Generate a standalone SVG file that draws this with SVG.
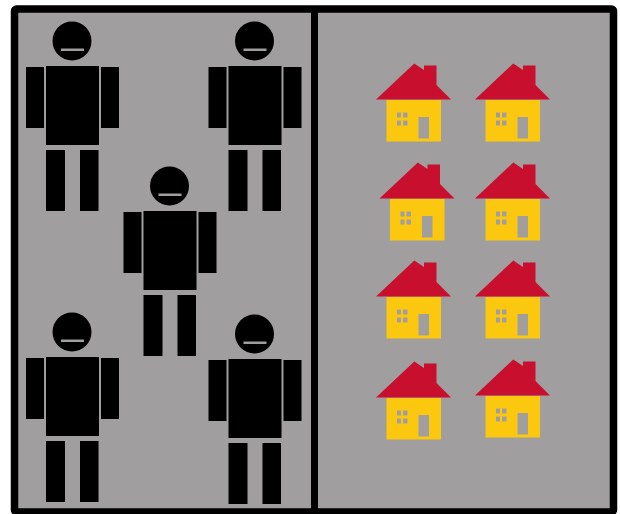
<svg xmlns="http://www.w3.org/2000/svg" width="620" height="514" viewBox="0 0 620 514">
<defs>
<style>
.k{fill:#000}.m{fill:#a09e9f}.r{fill:#c80f2d}.y{fill:#fcc80f}
</style>
<g id="person">
<circle class="k" cx="72" cy="41" r="19.5"/>
<rect class="m" x="61" y="48.5" width="23" height="2.5"/>
<rect class="k" x="46" y="66" width="53" height="79"/>
<rect class="k" x="26" y="67" width="18" height="61"/>
<rect class="k" x="101" y="67" width="18" height="61"/>
<rect class="k" x="46" y="150" width="19" height="61"/>
<rect class="k" x="80" y="150" width="18.500" height="61"/>
</g>
<g id="house">
<polygon class="r" points="376,99.500 414.300,63.500 424,70 424,65.500 436.500,65.500 436.500,85 451,99.500"/>
<rect class="y" x="386.500" y="100" width="54.500" height="41.500"/>
<rect class="m" x="418.500" y="117" width="10.500" height="21.500"/>
<g class="m">
<rect x="397" y="112.500" width="4" height="5"/>
<rect x="403" y="112.500" width="4.500" height="5"/>
<rect x="397" y="120.500" width="4" height="5"/>
<rect x="403" y="120.500" width="4.500" height="5"/>
</g>
</g>
</defs>
<rect width="620" height="514" fill="#fff"/>
<g id="frame">
<rect x="14.500" y="9" width="599" height="503" rx="2" fill="#a09e9f" stroke="#000" stroke-width="7.500"/>
<rect x="311" y="9" width="7" height="503" fill="#000"/>
</g>
<g id="person-1"><use href="#person"/></g>
<g id="person-2"><use href="#person" x="182.500"/></g>
<g id="person-3"><use href="#person" x="97.500" y="145"/></g>
<g id="person-4"><use href="#person" y="291"/></g>
<g id="person-5"><use href="#person" x="182.500" y="293"/></g>
<g id="house-1"><use href="#house"/></g>
<g id="house-2"><use href="#house" x="99"/></g>
<g id="house-3"><use href="#house" x="3.500" y="99"/></g>
<g id="house-4"><use href="#house" x="99" y="99"/></g>
<g id="house-5"><use href="#house" y="197"/></g>
<g id="house-6"><use href="#house" x="99" y="197"/></g>
<g id="house-7"><use href="#house" y="298"/></g>
<g id="house-8"><use href="#house" x="99" y="296"/></g>
</svg>
